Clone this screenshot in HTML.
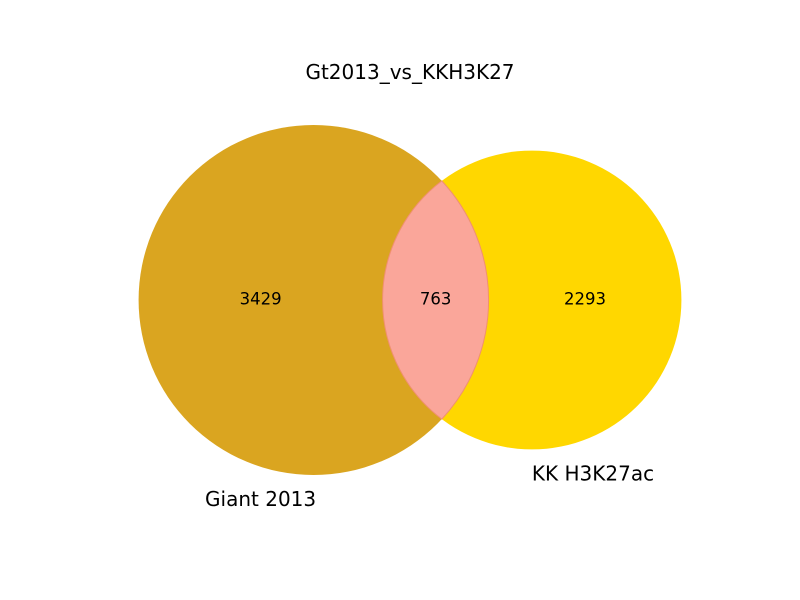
<!DOCTYPE html>
<html><head><meta charset="utf-8"><style>
html,body{margin:0;padding:0;background:#fff;}
svg{display:block;font-family:"DejaVu Sans","Liberation Sans",sans-serif;}
</style></head><body>
<svg id="chart" width="800" height="600" viewBox="0 0 800 600">
<rect width="800" height="600" fill="#fff"/>
<text x="410" y="79" text-anchor="middle" font-size="20" fill="#000">Gt2013_vs_KKH3K27</text>
</svg>
<script>
const setNames = ["Giant 2013", "KK H3K27ac"];
const onlyCounts = [3429, 2293];
const overlapCount = [763];

const NS = "http://www.w3.org/2000/svg";
const svg = document.getElementById("chart");
const sizeA = onlyCounts[0] + overlapCount[0];
const sizeB = onlyCounts[1] + overlapCount[0];
const k = 175 / Math.sqrt(4192);
const rA = k * Math.sqrt(sizeA), rB = k * Math.sqrt(sizeB);
function lens(d) {
  if (d >= rA + rB) return 0;
  if (d <= Math.abs(rA - rB)) return Math.PI * Math.min(rA, rB) ** 2;
  const a = rA * rA * Math.acos((d * d + rA * rA - rB * rB) / (2 * d * rA));
  const b = rB * rB * Math.acos((d * d + rB * rB - rA * rA) / (2 * d * rB));
  const c = 0.5 * Math.sqrt((-d + rA + rB) * (d + rA - rB) * (d - rA + rB) * (d + rA + rB));
  return a + b - c;
}
const target = Math.PI * rA * rA * overlapCount[0] / sizeA;
let lo = Math.abs(rA - rB) + 1e-6, hi = rA + rB;
for (let i = 0; i < 80; i++) { const m = (lo + hi) / 2; if (lens(m) > target) lo = m; else hi = m; }
const d = (lo + hi) / 2;
const cy = 300;
const cxA = 410 - (rA + d + rB) / 2 + rA;
const cxB = cxA + d;
const xi = cxA + (d * d + rA * rA - rB * rB) / (2 * d);
const yo = Math.sqrt(Math.max(0, rA * rA - (xi - cxA) ** 2));

function el(tag, attrs) { const e = document.createElementNS(NS, tag); for (const a in attrs) e.setAttribute(a, attrs[a]); svg.appendChild(e); return e; }

const cA = el("circle", {cx: cxA, cy: cy, r: rA, fill: "#DAA520"});


const cB = el("circle", {cx: cxB, cy: cy, r: rB, fill: "#FFD700"});


const p = el("path", {d: `M ${xi} ${cy - yo} A ${rB} ${rB} 0 0 0 ${xi} ${cy + yo} A ${rA} ${rA} 0 0 0 ${xi} ${cy - yo} Z`, fill: "#FAA69A", stroke: "#F09070", "stroke-width": 1});



const leftA = cxA - rA, rightB = cxB + rB, lensL = cxB - rB, lensR = cxA + rA;
function txt(x, y, s, size, name) {
  const t = el("text", {x: x, y: y, "text-anchor": "middle", "font-size": size, fill: "#000"});
  t.textContent = s;
  
  
}
txt((leftA + lensL) / 2, cy + 4.5, String(onlyCounts[0]), 16.5, "count-giant-only");
txt((lensR + rightB) / 2, cy + 4.5, String(onlyCounts[1]), 16.5, "count-kk-only");
txt((lensL + lensR) / 2, cy + 4.5, String(overlapCount[0]), 16.5, "count-overlap");
txt(cxA - 53, cy + rA + 31, setNames[0], 20, "label-giant-2013");
txt(cxB + 61, cy + rB + 31, setNames[1], 20, "label-kk-h3k27ac");
</script>
</body></html>
